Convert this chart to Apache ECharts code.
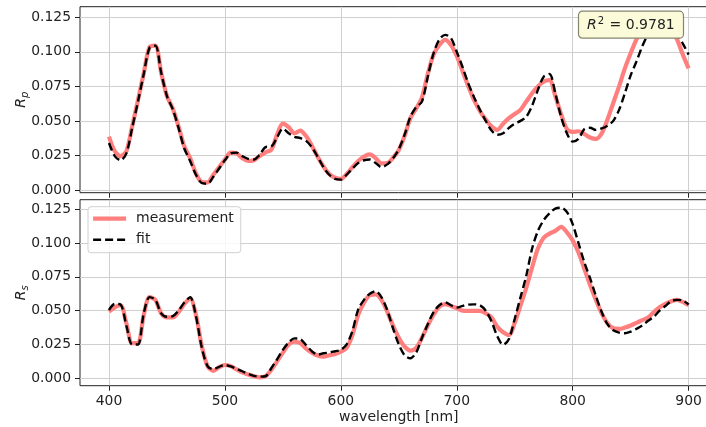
<!DOCTYPE html>
<html>
<head>
<meta charset="utf-8">
<script src="https://cdn.jsdelivr.net/npm/echarts@6/dist/echarts.min.js"></script>
<style>html,body{margin:0;padding:0;background:#fff;overflow:hidden;width:706px;height:427px}#c{width:720px;height:427px}</style>
</head>
<body>
<div id="c"></div>
<script>
// wavelength grid [nm], 5 nm step
const wavelength = [];
for (let w = 400; w <= 900; w += 5) wavelength.push(w);

const xTicks = [400, 500, 600, 700, 800, 900];
const yTicks = [0, 0.025, 0.05, 0.075, 0.1, 0.125];

const rpMeasurement = [
  0.0386, 0.028, 0.0245, 0.028, 0.046, 0.065, 0.0845, 0.1035, 0.1045, 0.085,
  0.068, 0.059, 0.046, 0.0314, 0.023, 0.012, 0.0058, 0.0055, 0.011, 0.0165,
  0.022, 0.027, 0.0265, 0.023, 0.021, 0.0215, 0.0245, 0.0272, 0.029, 0.040,
  0.048, 0.0455, 0.041, 0.043, 0.039, 0.032, 0.024, 0.017, 0.0115, 0.0088,
  0.008, 0.0115, 0.0165, 0.021, 0.0242, 0.0258, 0.023, 0.0193, 0.0195, 0.0233,
  0.029, 0.039, 0.052, 0.059, 0.067, 0.084, 0.098, 0.105, 0.1087, 0.105,
  0.097, 0.086, 0.075, 0.065, 0.057, 0.051, 0.046, 0.0435, 0.048, 0.052,
  0.055, 0.058, 0.064, 0.070, 0.075, 0.0785, 0.0795, 0.068, 0.055, 0.044,
  0.042, 0.0425, 0.0405, 0.038, 0.037, 0.041, 0.051, 0.063, 0.075, 0.088,
  0.099, 0.109, 0.117, 0.123, 0.1265, 0.126, 0.123, 0.117, 0.109, 0.098,
  0.088
];
const rpFit = [
  0.034, 0.0245, 0.0215, 0.0265, 0.045, 0.064, 0.084, 0.103, 0.1045, 0.085,
  0.068, 0.0585, 0.045, 0.030, 0.021, 0.011, 0.005, 0.0045, 0.0095, 0.0155,
  0.0215, 0.0265, 0.027, 0.0245, 0.0225, 0.022, 0.0255, 0.031, 0.0315, 0.038,
  0.0445, 0.041, 0.0385, 0.0375, 0.0355, 0.031, 0.024, 0.0165, 0.011, 0.008,
  0.0075, 0.011, 0.0155, 0.0195, 0.0215, 0.022, 0.0195, 0.0165, 0.0185, 0.023,
  0.0295, 0.040, 0.053, 0.060, 0.064, 0.082, 0.099, 0.109, 0.1123, 0.110,
  0.100, 0.089, 0.077, 0.067, 0.058, 0.050, 0.043, 0.040, 0.041, 0.045,
  0.048, 0.050, 0.053, 0.061, 0.0725, 0.082, 0.084, 0.070, 0.053, 0.041,
  0.035, 0.037, 0.044, 0.045, 0.0435, 0.0445, 0.0465, 0.050, 0.058, 0.070,
  0.083, 0.093, 0.104, 0.113, 0.120, 0.1245, 0.1265, 0.124, 0.113, 0.106,
  0.098
];
const rsMeasurement = [
  0.0493, 0.0525, 0.054, 0.0407, 0.026, 0.026, 0.0468, 0.060, 0.058, 0.048,
  0.045, 0.045, 0.049, 0.055, 0.059, 0.047, 0.024, 0.009, 0.0055, 0.0082,
  0.0098, 0.009, 0.0066, 0.0043, 0.0027, 0.0015, 0.0007, 0.0015, 0.0062, 0.0125,
  0.019, 0.025, 0.027, 0.026, 0.022, 0.019, 0.0168, 0.016, 0.017, 0.018,
  0.0197, 0.0225, 0.032, 0.047, 0.056, 0.0615, 0.062, 0.058, 0.0493, 0.039,
  0.030, 0.0235, 0.0205, 0.0225, 0.030, 0.039, 0.047, 0.053, 0.0548, 0.0535,
  0.0518, 0.050, 0.0498, 0.0498, 0.0498, 0.048, 0.045, 0.038, 0.034, 0.032,
  0.041, 0.054, 0.067, 0.082, 0.096, 0.104, 0.107, 0.109, 0.112, 0.108,
  0.102, 0.093, 0.081, 0.069, 0.058, 0.048, 0.0407, 0.037, 0.0365, 0.0375,
  0.039, 0.041, 0.043, 0.045, 0.049, 0.0525, 0.055, 0.057, 0.058, 0.0565,
  0.054
];
const rsFit = [
  0.0505, 0.055, 0.0545, 0.039, 0.025, 0.025, 0.048, 0.060, 0.058, 0.048,
  0.0455, 0.046, 0.050, 0.056, 0.060, 0.046, 0.023, 0.009, 0.0068, 0.0085,
  0.0098, 0.0088, 0.007, 0.0052, 0.0032, 0.0018, 0.0012, 0.0015, 0.0074, 0.014,
  0.021, 0.0265, 0.0295, 0.029, 0.0245, 0.020, 0.0175, 0.0185, 0.019, 0.020,
  0.021, 0.025, 0.035, 0.051, 0.058, 0.0625, 0.0645, 0.060, 0.0505, 0.037,
  0.025, 0.017, 0.0148, 0.019, 0.030, 0.040, 0.049, 0.054, 0.0562, 0.054,
  0.0523, 0.0535, 0.0545, 0.0547, 0.054, 0.050, 0.042, 0.031, 0.0247, 0.029,
  0.044, 0.060, 0.076, 0.096, 0.109, 0.117, 0.122, 0.1255, 0.1262, 0.123,
  0.114, 0.100, 0.086, 0.074, 0.061, 0.049, 0.040, 0.0355, 0.0338, 0.0333,
  0.0345, 0.0365, 0.039, 0.0425, 0.0456, 0.050, 0.0535, 0.057, 0.058, 0.0575,
  0.0545
];
const r2Text = '0.9781';

const pair = (ys) => wavelength.map((w, i) => [w, ys[i]]);
const FONT = 'DejaVu Sans';
const INK = '#222';
const GRIDC = '#cfcfcf';
const MEAS = '#ff7f7f';

function xAxisCfg(gi, showLabels) {
  return {
    type: 'value', gridIndex: gi, min: 375, max: 925,
    axisLine: { show: false, onZero: false },
    axisTick: { show: true, length: 5, inside: false, customValues: xTicks, lineStyle: { color: INK, width: 1 } },
    axisLabel: { show: showLabels, customValues: xTicks, margin: 9, fontFamily: FONT, fontSize: 13.9, color: INK },
    splitLine: { show: true, customValues: xTicks, lineStyle: { color: GRIDC, width: 1 } },
    name: showLabels ? 'wavelength [nm]' : '',
    nameLocation: 'middle', nameGap: 25, nameMoveOverlap: false,
    nameTextStyle: { fontFamily: FONT, fontSize: 14, color: INK }
  };
}
function yAxisCfg(gi, min, max, sub) {
  return {
    type: 'value', gridIndex: gi, min: min, max: max,
    axisLine: { show: false, onZero: false },
    axisTick: { show: true, length: 5, inside: false, customValues: yTicks, lineStyle: { color: INK, width: 1 } },
    axisLabel: { customValues: yTicks, margin: 9, fontFamily: FONT, fontSize: 13.9, color: INK,
      formatter: (v) => v.toFixed(3) },
    splitLine: { show: true, customValues: yTicks, lineStyle: { color: GRIDC, width: 1 } },
    name: '{r|R}{s|' + sub + '}',
    nameLocation: 'middle', nameRotate: 90, nameGap: 50, nameMoveOverlap: false,
    nameTextStyle: {
      fontFamily: FONT, fontSize: 14, color: INK,
      rich: {
        r: { fontFamily: FONT, fontSize: 14, fontStyle: 'italic', color: INK },
        s: { fontFamily: FONT, fontSize: 10, fontStyle: 'italic', color: INK, padding: [8, 0, 0, 0] }
      }
    }
  };
}

const chart = echarts.init(document.getElementById('c'), null, { renderer: 'canvas' });
chart.setOption({
  animation: false,
  backgroundColor: '#ffffff',
  grid: [
    { left: 80, top: 6.7, width: 637.6, height: 186, show: true, borderColor: INK, borderWidth: 1,
      backgroundColor: 'transparent', containLabel: false, outerBoundsMode: 'none' },
    { left: 80, top: 199.7, width: 637.6, height: 186, show: true, borderColor: INK, borderWidth: 1,
      backgroundColor: 'transparent', containLabel: false, outerBoundsMode: 'none' }
  ],
  xAxis: [xAxisCfg(0, false), xAxisCfg(1, true)],
  yAxis: [yAxisCfg(0, -0.002, 0.1327, 'p'), yAxisCfg(1, -0.0055, 0.1321, 's')],
  legend: {
    data: ['measurement', 'fit'],
    orient: 'vertical', left: 88, top: 206.7,
    padding: [5, 7, 6, 3],
    itemWidth: 33, itemHeight: 14, itemGap: 7,
    itemStyle: { opacity: 0 },
    lineStyle: { width: 'inherit' },
    backgroundColor: 'rgba(255,255,255,0.8)', borderColor: '#d0d0d0', borderWidth: 1, borderRadius: 3,
    textStyle: { fontFamily: FONT, fontSize: 14, color: INK, padding: [0, 0, 0, 5] }
  },
  title: {
    text: '{r|R}{s|2}{n| = ' + r2Text + '}',
    left: 578, top: 10.7,
    padding: [6, 9, 6, 9],
    backgroundColor: '#fbfad9', borderColor: '#85856e', borderWidth: 1.2, borderRadius: 4,
    textStyle: {
      fontFamily: FONT, fontSize: 14, fontWeight: 'normal', color: INK,
      rich: {
        r: { fontFamily: FONT, fontSize: 14, fontWeight: 'normal', fontStyle: 'italic', color: INK },
        s: { fontFamily: FONT, fontSize: 10, fontWeight: 'normal', color: INK, padding: [0, 1, 8, 1] },
        n: { fontFamily: FONT, fontSize: 14, fontWeight: 'normal', color: INK }
      }
    }
  },
  series: [
    { name: 'measurement', type: 'line', xAxisIndex: 0, yAxisIndex: 0, data: pair(rpMeasurement),
      symbol: 'none', smooth: 0.3, z: 2, lineStyle: { color: MEAS, width: 4.2 }, itemStyle: { color: MEAS } },
    { name: 'fit', type: 'line', xAxisIndex: 0, yAxisIndex: 0, data: pair(rpFit),
      symbol: 'none', smooth: 0.3, z: 3, lineStyle: { color: '#000', width: 2.4, type: [8, 4] }, itemStyle: { color: '#000' } },
    { name: 'measurement', type: 'line', xAxisIndex: 1, yAxisIndex: 1, data: pair(rsMeasurement),
      symbol: 'none', smooth: 0.3, z: 2, lineStyle: { color: MEAS, width: 4.2 }, itemStyle: { color: MEAS } },
    { name: 'fit', type: 'line', xAxisIndex: 1, yAxisIndex: 1, data: pair(rsFit),
      symbol: 'none', smooth: 0.3, z: 3, lineStyle: { color: '#000', width: 2.4, type: [8, 4] }, itemStyle: { color: '#000' } }
  ]
});
</script>
</body>
</html>
